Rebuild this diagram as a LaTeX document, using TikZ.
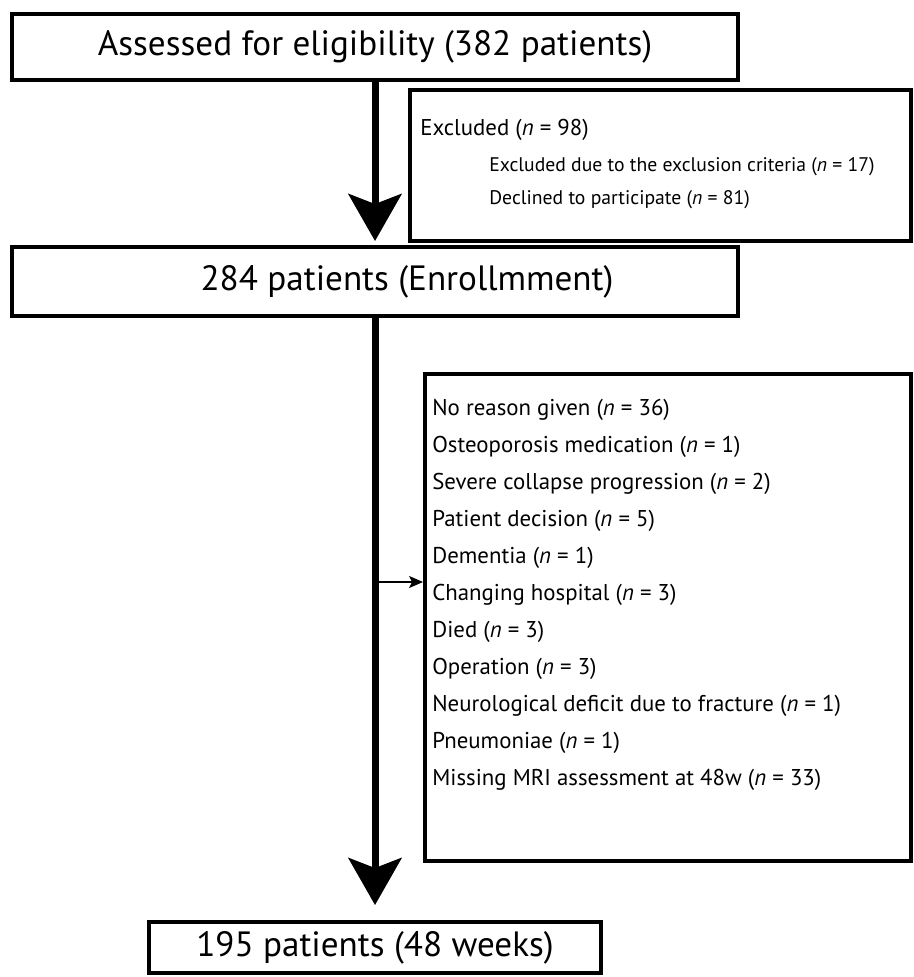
\documentclass[tikz,border=0pt]{standalone}
\usepackage{fontspec}
\setmainfont{PT Sans}
\usetikzlibrary{arrows.meta}

\begin{document}
\begin{tikzpicture}[x=0.02cm, y=-0.02cm,
  box/.style={draw, line width=0.08cm, inner sep=0pt, font=\fontsize{20}{24}\selectfont},
  sidebox/.style={draw, line width=0.08cm, inner sep=0pt},
  item/.style={anchor=west, inner sep=0pt, font=\fontsize{13}{15}\selectfont},
  subitem/.style={anchor=west, inner sep=0pt, font=\fontsize{11.2}{14}\selectfont},
  bigarrow/.style={line width=0.14cm, -{Stealth[length=0.94cm, width=1.06cm, inset=0.2cm]}},
  thinarrow/.style={line width=0.7pt, -{Stealth[length=0.28cm, width=0.24cm, inset=0.06cm]}}]

  \useasboundingbox (0,0) rectangle (913,977);

  % Main boxes
  \node[box, minimum width=14.52cm, minimum height=1.32cm] (assess) at (375,47) {Assessed for eligibility (382 patients)};
  \node[box, minimum width=14.52cm, minimum height=1.38cm] (enrol) at (375,281.5) {\hspace*{1.28cm}284 patients (Enrollmment)};
  \node[box, minimum width=9.06cm, minimum height=1.02cm] (final) at (375,947.5) {195 patients (48 weeks)};

  % Excluded box
  \node[sidebox, minimum width=10.02cm, minimum height=3.02cm] (excl) at (660.5,165.5) {};
  \node[item] (excl0) at (420,130) {Excluded (\textit{n} = 98)};
  \node[subitem] (excl1) at (489,167) {Excluded due to the exclusion criteria (\textit{n} = 17)};
  \node[subitem] (excl2) at (489,200) {Declined to participate (\textit{n} = 81)};

  % Dropout box
  \node[sidebox, minimum width=9.72cm, minimum height=9.74cm] (reasons) at (668,617.5) {};
  \foreach \t [count=\i] in {
    {No reason given (\textit{n} = 36)},
    {Osteoporosis medication (\textit{n} = 1)},
    {Severe collapse progression (\textit{n} = 2)},
    {Patient decision (\textit{n} = 5)},
    {Dementia (\textit{n} = 1)},
    {Changing hospital (\textit{n} = 3)},
    {Died (\textit{n} = 3)},
    {Operation (\textit{n} = 3)},
    {Neurological deficit due to fracture (\textit{n} = 1)},
    {Pneumoniae (\textit{n} = 1)},
    {Missing MRI assessment at 48w (\textit{n} = 33)}} {
    \node[item] (r\i) at (432,{410+37*(\i-1)}) {\t};
  }

  % Arrows
  \draw[bigarrow, shorten >=0.08cm] (assess.south) -- (enrol.north);
  \draw[bigarrow, shorten >=0.3cm] (enrol.south) -- (final.north);
  \coordinate (branch) at (375,582);
  \draw[thinarrow] (branch) -- (reasons.west |- branch);

\end{tikzpicture}
\end{document}
